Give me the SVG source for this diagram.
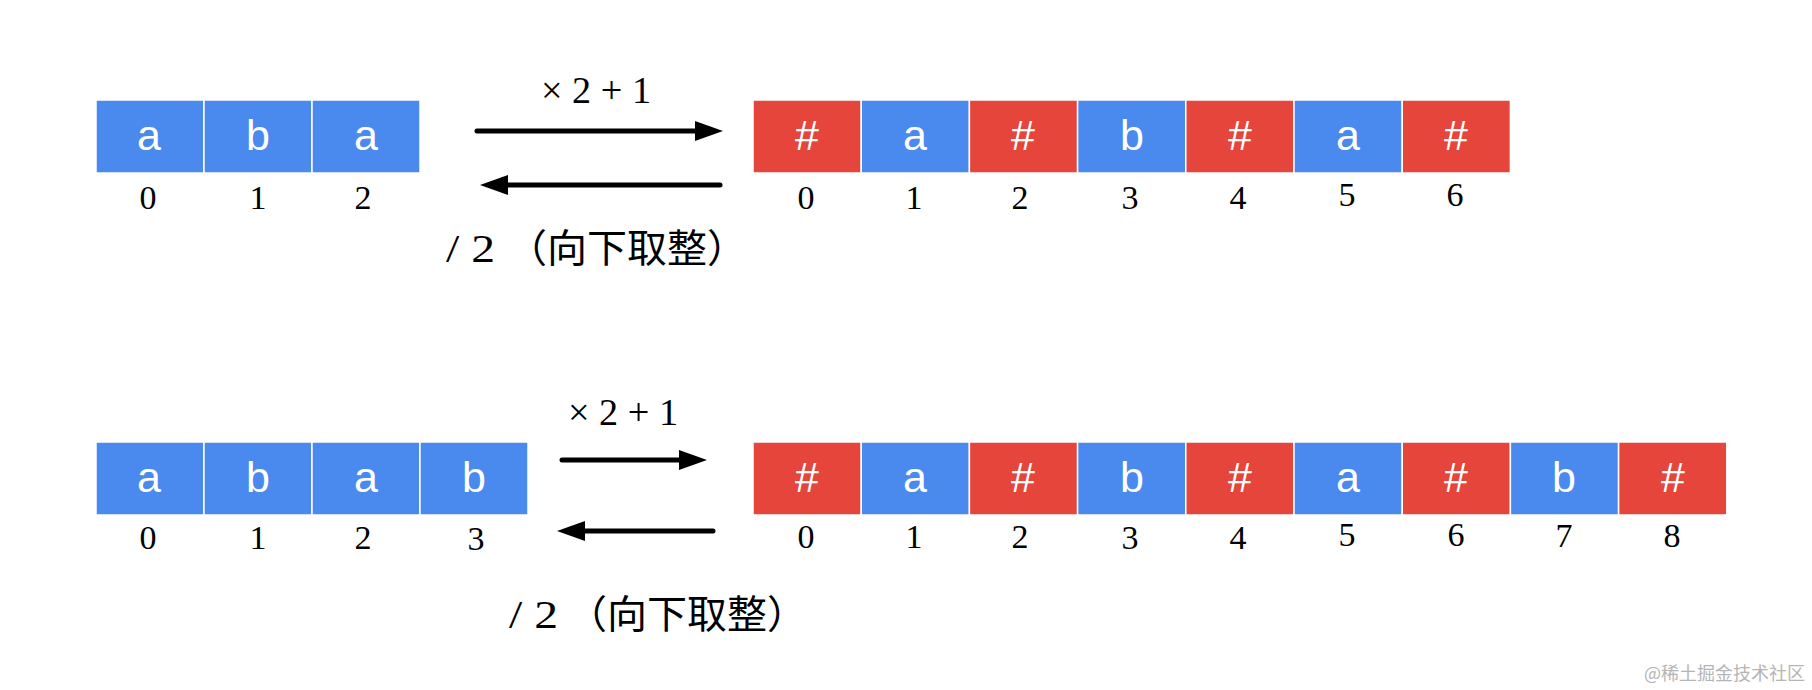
<svg xmlns="http://www.w3.org/2000/svg" width="1812" height="690" viewBox="0 0 1812 690">
<style>
.b{fill:#4a89ee;stroke:#fff;stroke-width:1.5}
.r{fill:#e5453b;stroke:#fff;stroke-width:1.5}
.c{font-family:"Liberation Sans",Arial,sans-serif;font-size:43px;fill:#fff;text-anchor:middle}
.i{font-family:"Liberation Serif","Times New Roman",serif;font-size:34px;fill:#000;text-anchor:middle}
.op{font-family:"Liberation Serif","Times New Roman",serif;font-size:37px;fill:#000}
.sl{font-family:"Liberation Serif","Times New Roman",serif;font-size:40px;fill:#000}
.cjk{font-family:"Noto Sans CJK SC","Noto Sans",sans-serif;font-size:39px;fill:#000}
.a{stroke:#000;stroke-width:5;stroke-linecap:round;fill:none;marker-end:url(#ah)}
.wm{font-family:"Noto Sans CJK SC",sans-serif;font-size:18px;fill:#b5b5b5}
</style>
<defs>
<marker id="ah" viewBox="0 0 28 20" refX="2" refY="10" markerWidth="28" markerHeight="20" markerUnits="userSpaceOnUse" orient="auto">
<path d="M0,0 L28,10 L0,20 Z" fill="#000"/>
</marker>
</defs>
<rect width="1812" height="690" fill="#fff"/>

<!-- Top row: source -->
<g id="t-src-0"><rect class="b" x="96" y="100" width="108" height="73"/><text class="c" x="149" y="150">a</text><text class="i" x="148" y="208.5">0</text></g>
<g id="t-src-1"><rect class="b" x="204" y="100" width="108" height="73"/><text class="c" x="258" y="150">b</text><text class="i" x="258" y="208.5">1</text></g>
<g id="t-src-2"><rect class="b" x="312" y="100" width="108" height="73"/><text class="c" x="366" y="150">a</text><text class="i" x="363" y="208.5">2</text></g>

<!-- Top row: transformed -->
<g id="t-dst-0"><rect class="r" x="753" y="100" width="108.2" height="73"/><text class="c" x="807" y="150">#</text><text class="i" x="806" y="208.5">0</text></g>
<g id="t-dst-1"><rect class="b" x="861.2" y="100" width="108.2" height="73"/><text class="c" x="915" y="150">a</text><text class="i" x="914" y="208.5">1</text></g>
<g id="t-dst-2"><rect class="r" x="969.4" y="100" width="108.2" height="73"/><text class="c" x="1023" y="150">#</text><text class="i" x="1020" y="208.5">2</text></g>
<g id="t-dst-3"><rect class="b" x="1077.6" y="100" width="108.2" height="73"/><text class="c" x="1132" y="150">b</text><text class="i" x="1130" y="208.5">3</text></g>
<g id="t-dst-4"><rect class="r" x="1185.8" y="100" width="108.2" height="73"/><text class="c" x="1240" y="150">#</text><text class="i" x="1238" y="208.5">4</text></g>
<g id="t-dst-5"><rect class="b" x="1294" y="100" width="108.2" height="73"/><text class="c" x="1348" y="150">a</text><text class="i" x="1347" y="205.5">5</text></g>
<g id="t-dst-6"><rect class="r" x="1402.2" y="100" width="108.2" height="73"/><text class="c" x="1456" y="150">#</text><text class="i" x="1455" y="205.5">6</text></g>

<!-- Bottom row: source -->
<g id="b-src-0"><rect class="b" x="96" y="442" width="108" height="73"/><text class="c" x="149" y="492">a</text><text class="i" x="148" y="549">0</text></g>
<g id="b-src-1"><rect class="b" x="204" y="442" width="108" height="73"/><text class="c" x="258" y="492">b</text><text class="i" x="258" y="549">1</text></g>
<g id="b-src-2"><rect class="b" x="312" y="442" width="108" height="73"/><text class="c" x="366" y="492">a</text><text class="i" x="363" y="549">2</text></g>
<g id="b-src-3"><rect class="b" x="420" y="442" width="108" height="73"/><text class="c" x="474" y="492">b</text><text class="i" x="476" y="550">3</text></g>

<!-- Bottom row: transformed -->
<g id="b-dst-0"><rect class="r" x="753" y="442" width="108.2" height="73"/><text class="c" x="807" y="492">#</text><text class="i" x="806" y="547.5">0</text></g>
<g id="b-dst-1"><rect class="b" x="861.2" y="442" width="108.2" height="73"/><text class="c" x="915" y="492">a</text><text class="i" x="914" y="547.5">1</text></g>
<g id="b-dst-2"><rect class="r" x="969.4" y="442" width="108.2" height="73"/><text class="c" x="1023" y="492">#</text><text class="i" x="1020" y="547.5">2</text></g>
<g id="b-dst-3"><rect class="b" x="1077.6" y="442" width="108.2" height="73"/><text class="c" x="1132" y="492">b</text><text class="i" x="1130" y="549">3</text></g>
<g id="b-dst-4"><rect class="r" x="1185.8" y="442" width="108.2" height="73"/><text class="c" x="1240" y="492">#</text><text class="i" x="1238" y="549">4</text></g>
<g id="b-dst-5"><rect class="b" x="1294" y="442" width="108.2" height="73"/><text class="c" x="1348" y="492">a</text><text class="i" x="1347" y="546">5</text></g>
<g id="b-dst-6"><rect class="r" x="1402.2" y="442" width="108.2" height="73"/><text class="c" x="1456" y="492">#</text><text class="i" x="1456" y="546">6</text></g>
<g id="b-dst-7"><rect class="b" x="1510.4" y="442" width="108.2" height="73"/><text class="c" x="1564" y="492">b</text><text class="i" x="1564" y="547">7</text></g>
<g id="b-dst-8"><rect class="r" x="1618.6" y="442" width="108.2" height="73"/><text class="c" x="1673" y="492">#</text><text class="i" x="1672" y="547">8</text></g>

<!-- Connectors -->
<g id="connectors">
<line class="a" x1="477" y1="131" x2="697" y2="131"/>
<line class="a" x1="720" y1="185" x2="506" y2="185"/>
<line class="a" x1="562" y1="460" x2="681" y2="460"/>
<line class="a" x1="713" y1="531" x2="583" y2="531"/>
</g>

<!-- Labels -->
<g id="labels">
<text class="op" x="541" y="103" textLength="110" lengthAdjust="spacingAndGlyphs">× 2 + 1</text>
<text class="sl" x="446" y="262" textLength="49" lengthAdjust="spacingAndGlyphs">/ 2</text>
<text class="cjk" x="507" y="262" textLength="240" lengthAdjust="spacingAndGlyphs">（向下取整）</text>
<text class="op" x="568" y="425" textLength="110" lengthAdjust="spacingAndGlyphs">× 2 + 1</text>
<text class="sl" x="509" y="628" textLength="49" lengthAdjust="spacingAndGlyphs">/ 2</text>
<text class="cjk" x="567" y="628" textLength="240" lengthAdjust="spacingAndGlyphs">（向下取整）</text>
</g>

<text class="wm" x="1805" y="680" text-anchor="end">@稀土掘金技术社区</text>
</svg>
